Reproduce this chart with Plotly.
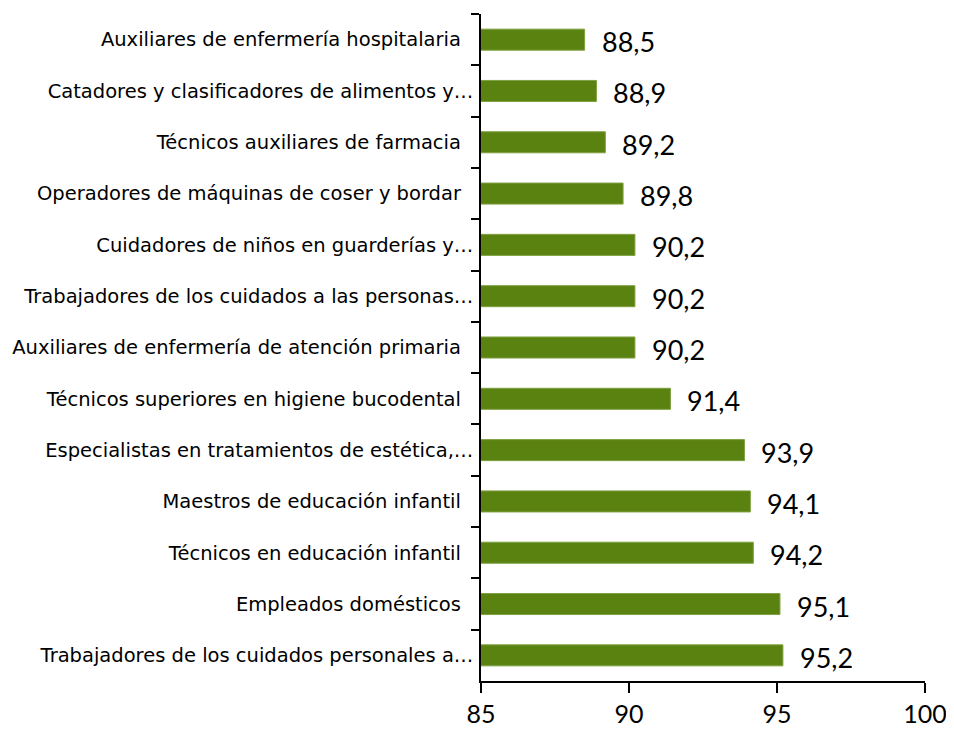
import plotly.graph_objects as go

NB = "\u00a0\u00a0"
categories = [
    "Auxiliares de enfermería hospitalaria" + NB,
    "Catadores y clasificadores de alimentos y…",
    "Técnicos auxiliares de farmacia" + NB,
    "Operadores de máquinas de coser y bordar" + NB,
    "Cuidadores de niños en guarderías y…",
    "Trabajadores de los cuidados a las personas…",
    "Auxiliares de enfermería de atención primaria" + NB,
    "Técnicos superiores en higiene bucodental" + NB,
    "Especialistas en tratamientos de estética,…",
    "Maestros de educación infantil" + NB,
    "Técnicos en educación infantil" + NB,
    "Empleados domésticos" + NB,
    "Trabajadores de los cuidados personales a…",
]
values = [88.5, 88.9, 89.2, 89.8, 90.2, 90.2, 90.2, 91.4, 93.9, 94.1, 94.2, 95.1, 95.2]
value_labels = [f"{v:.1f}".replace(".", ",") for v in values]
x_ticks = [85, 90, 95, 100]

FONT = "Lato"

fig = go.Figure(go.Bar(
    x=values, y=categories, orientation="h",
    marker=dict(color="#5A8210", line=dict(color="#7FA040", width=1)),
    width=0.41,
))

for cat, v, lab in zip(categories, values, value_labels):
    fig.add_annotation(x=v, y=cat, text=lab, showarrow=False, xanchor="left",
                       xshift=15, yshift=-2, font=dict(family=FONT, size=27, color="#000"))

fig.update_layout(
    width=946, height=723,
    margin=dict(l=473, r=29, t=6, b=50, autoexpand=False),
    plot_bgcolor="white", paper_bgcolor="white",
    showlegend=False,
    xaxis=dict(range=[85, 100], tickvals=x_ticks, ticktext=[str(t) for t in x_ticks],
               showgrid=False, zeroline=False, showline=True, linecolor="#000", linewidth=1.5,
               ticks="outside", ticklen=10, tickwidth=1.5, tickcolor="#000",
               tickfont=dict(family=FONT, size=25, color="#000"), automargin=False),
    yaxis=dict(autorange="reversed", showgrid=False, showline=True, linecolor="#000",
               linewidth=1.5, ticks="outside", ticklen=8, tickwidth=1.5, tickcolor="#000",
               tickson="boundaries", ticklabelstandoff=2, automargin=False,
               tickfont=dict(family="DejaVu Sans", size=19.5, color="#000")),
)

fig.write_html("out.html")
